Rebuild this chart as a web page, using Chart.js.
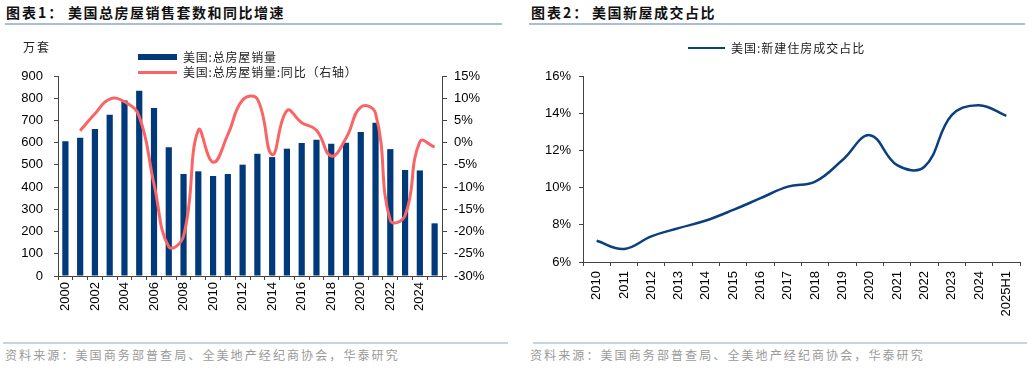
<!DOCTYPE html>
<html>
<head>
<meta charset="utf-8">
<script src="https://cdn.jsdelivr.net/npm/chart.js@4.4.1/dist/chart.umd.min.js"></script>
<style>
  html, body { margin:0; padding:0; background:#fff; }
  body { width:1030px; height:368px; position:relative; overflow:hidden; font-family:"Noto Sans CJK SC", sans-serif; }
  .abs { position:absolute; white-space:nowrap; }
  .title { font-size:14px; font-weight:bold; color:#111; letter-spacing:2px; line-height:16px; }
  .rule { position:absolute; height:2px; background:#a9bfd6; }
  .frule { position:absolute; height:2px; background:#c9d3df; }
  .foot { font-size:12px; color:#9a9a9a; letter-spacing:2.1px; line-height:14px; }
  .leg { font-size:12px; color:#222; letter-spacing:0.8px; line-height:14px; }
  .unit { font-size:12px; color:#222; letter-spacing:2px; line-height:14px; }
  canvas { position:absolute; }
</style>
</head>
<body>
<div class="abs title" style="left:6px;top:4px;">图表1：</div>
<div class="abs title" style="left:68px;top:4px;letter-spacing:1.5px;">美国总房屋销售套数和同比增速</div>
<div class="rule" style="left:5px;top:23px;width:497px;"></div>
<div class="abs title" style="left:531px;top:4px;">图表2：</div>
<div class="abs title" style="left:592px;top:4px;letter-spacing:1.5px;">美国新屋成交占比</div>
<div class="rule" style="left:529px;top:23px;width:496px;"></div>

<canvas id="c1" width="515" height="330" style="left:0;top:0;"></canvas>
<canvas id="c2" width="515" height="330" style="left:515px;top:0;"></canvas>

<div class="abs unit" style="left:23px;top:40px;">万套</div>
<div class="abs" style="left:138px;top:54px;width:39px;height:6px;background:#003a7a;"></div>
<div class="abs leg" style="left:183px;top:50px;">美国:总房屋销量</div>
<div class="abs" style="left:138px;top:71px;width:39px;height:3px;background:#fa6464;"></div>
<div class="abs leg" style="left:183px;top:65px;">美国:总房屋销量:同比（右轴）</div>

<div class="abs" style="left:688px;top:47px;width:37px;height:2px;background:#0b3f80;"></div>
<div class="abs leg" style="left:731px;top:41px;letter-spacing:1px;">美国:新建住房成交占比</div>

<div class="frule" style="left:3px;top:342px;width:505px;"></div>
<div class="abs foot" style="left:5px;top:348px;">资料来源：美国商务部普查局、全美地产经纪商协会，华泰研究</div>
<div class="frule" style="left:533px;top:342px;width:494px;"></div>
<div class="abs foot" style="left:530px;top:348px;">资料来源：美国商务部普查局、全美地产经纪商协会，华泰研究</div>

<script>
// ---- Data: chart 1 ----
const years1 = ['2000','2001','2002','2003','2004','2005','2006','2007','2008','2009','2010','2011','2012','2013','2014','2015','2016','2017','2018','2019','2020','2021','2022','2023','2024','2025'];
const totalSales = [606, 622, 661, 726, 790, 834, 756, 579, 459, 471, 450, 459, 501, 550, 535, 573, 598, 613, 595, 600, 648, 690, 571, 477, 475, 237];
const salesYoY = [null, 2.7, 6.5, 9.8, 9.2, 5.9, -9.3, -23.4, -21.0, 2.8, -4.4, 1.8, 9.6, 9.8, -2.7, 7.2, 4.5, 2.8, -3.0, 1.0, 8.0, 6.6, -17.5, -16.4, 0.2, -1.0];
const leftTicks = [0, 900, 100];
const rightTicks = [-30, 15, 5];

// ---- Data: chart 2 ----
const years2 = ['2010','2011','2012','2013','2014','2015','2016','2017','2018','2019','2020','2021','2022','2023','2024','2025H1'];
const newShare = [7.14, 6.70, 7.38, 7.82, 8.23, 8.80, 9.43, 10.05, 10.32, 11.48, 12.82, 11.21, 11.12, 13.90, 14.43, 13.86];
const shareTicks = [6, 16, 2];

const tickFont = { family: 'Liberation Sans, Arial, sans-serif', size: 13 };
const axisColor = '#444';

Chart.defaults.font.family = 'Liberation Sans, Arial, sans-serif';

new Chart(document.getElementById('c1'), {
  type: 'bar',
  data: {
    labels: years1,
    datasets: [
      {
        type: 'line', label: '美国:总房屋销量:同比（右轴）', data: salesYoY, yAxisID: 'y1',
        borderColor: '#fa6464', borderWidth: 3, pointRadius: 0, tension: 0.45, order: 0, spanGaps: true
      },
      {
        type: 'bar', label: '美国:总房屋销量', data: totalSales, yAxisID: 'y',
        backgroundColor: '#003a7a', categoryPercentage: 1, barPercentage: 0.42, order: 1
      }
    ]
  },
  options: {
    responsive: false, animation: false, devicePixelRatio: 1,
    layout: { padding: { top: 76, left: 0, right: 0, bottom: 0 } },
    plugins: { legend: { display: false }, tooltip: { enabled: false } },
    scales: {
      x: {
        offset: true,
        grid: { display: true, offset: true, drawOnChartArea: false, drawTicks: true, tickLength: 4, color: axisColor },
        border: { display: true, color: axisColor, width: 1 },
        ticks: {
          autoSkip: false, minRotation: 90, maxRotation: 90, padding: 2, color: '#000', font: tickFont,
          callback: function(v, i) { return i % 2 === 0 ? years1[i] : ''; }
        },
        afterFit: function(s) { s.height = 54; }
      },
      y: {
        position: 'left', min: leftTicks[0], max: leftTicks[1],
        grid: { drawOnChartArea: false, drawTicks: true, tickLength: 4, color: axisColor },
        border: { display: true, color: axisColor, width: 1 },
        ticks: { stepSize: leftTicks[2], padding: 11, color: '#000', font: tickFont },
        afterFit: function(s) { s.width = 58; }
      },
      y1: {
        position: 'right', min: rightTicks[0], max: rightTicks[1],
        grid: { drawOnChartArea: false, drawTicks: true, tickLength: 5, color: axisColor },
        border: { display: true, color: axisColor, width: 1 },
        ticks: { stepSize: rightTicks[2], padding: 7, color: '#000', font: tickFont, callback: v => v + '%' },
        afterFit: function(s) { s.width = 73; }
      }
    }
  }
});

new Chart(document.getElementById('c2'), {
  type: 'line',
  data: {
    labels: years2,
    datasets: [{
      label: '美国:新建住房成交占比', data: newShare,
      borderColor: '#0b3f80', borderWidth: 2.5, pointRadius: 0, tension: 0.4, fill: false
    }]
  },
  options: {
    responsive: false, animation: false, devicePixelRatio: 1,
    layout: { padding: { top: 76, left: 0, right: 10, bottom: 0 } },
    plugins: { legend: { display: false }, tooltip: { enabled: false } },
    scales: {
      x: {
        offset: true,
        grid: { display: true, offset: true, drawOnChartArea: false, drawTicks: true, tickLength: 4, color: axisColor },
        border: { display: true, color: axisColor, width: 1 },
        ticks: { autoSkip: false, minRotation: 90, maxRotation: 90, padding: 5, color: '#000', font: tickFont },
        afterFit: function(s) { s.height = 68; }
      },
      y: {
        min: shareTicks[0], max: shareTicks[1],
        grid: { drawOnChartArea: false, drawTicks: true, tickLength: 4, color: axisColor },
        border: { display: true, color: axisColor, width: 1 },
        ticks: { stepSize: shareTicks[2], padding: 8, color: '#000', font: tickFont, callback: v => v + '%' },
        afterFit: function(s) { s.width = 68; }
      }
    }
  }
});
</script>
</body>
</html>
